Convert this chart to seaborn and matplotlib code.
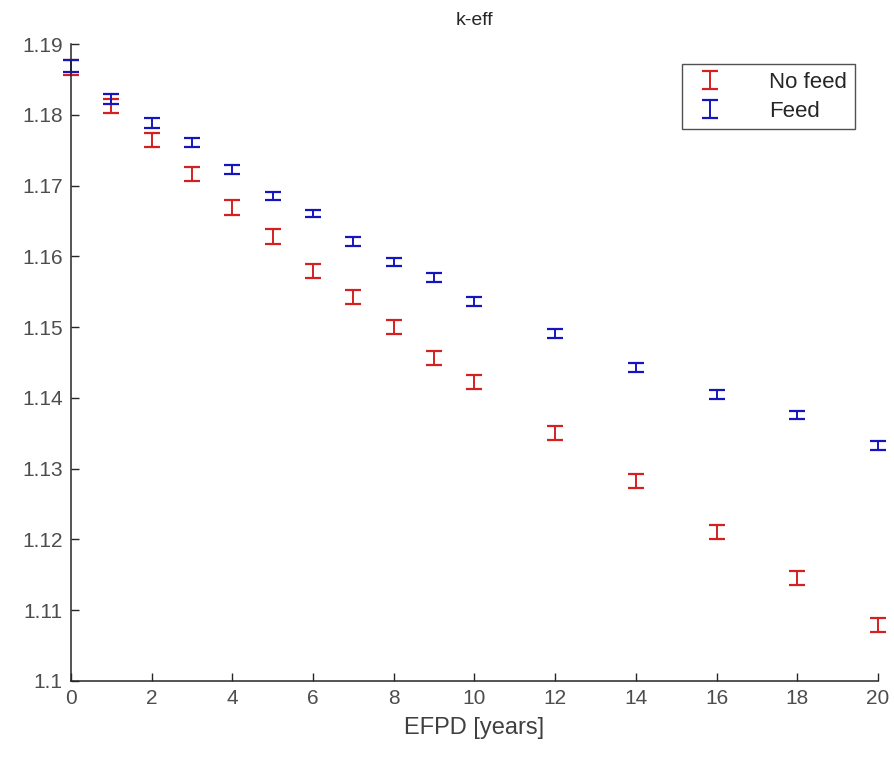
import numpy as np
import pandas as pd
import seaborn as sns
import matplotlib
matplotlib.use("Agg")
import matplotlib.pyplot as plt
from matplotlib.container import ErrorbarContainer
from matplotlib.legend_handler import HandlerErrorbar

# Burnup steps (effective full-power years)
efpd = [0, 1, 2, 3, 4, 5, 6, 7, 8, 9, 10, 12, 14, 16, 18, 20]

# k-eff without fuel feed
keff_nofeed = [1.1867, 1.1813, 1.1764, 1.1716, 1.1669, 1.1628, 1.1579, 1.1542,
               1.1500, 1.1456, 1.1422, 1.1350, 1.1282, 1.1211, 1.1146, 1.1079]
err_nofeed = [0.0011, 0.0010, 0.0010, 0.0010, 0.0010, 0.0010, 0.0010, 0.0010,
              0.0010, 0.0010, 0.0010, 0.0010, 0.0010, 0.0010, 0.0010, 0.0010]

# k-eff with continuous fuel feed
keff_feed = [1.1869, 1.1822, 1.1788, 1.1761, 1.1723, 1.1685, 1.1660, 1.1621,
             1.1592, 1.1570, 1.1536, 1.1491, 1.1443, 1.1405, 1.1376, 1.1333]
err_feed = [0.0008, 0.0007, 0.0007, 0.0006, 0.0006, 0.0006, 0.0005, 0.0006,
            0.0006, 0.0006, 0.0006, 0.0006, 0.0006, 0.0006, 0.0006, 0.0006]

series_names = ["No feed", "Feed"]

df = pd.DataFrame({
    "EFPD": efpd * 2,
    "keff": keff_nofeed + keff_feed,
    "err": err_nofeed + err_feed,
    "case": [series_names[0]] * len(efpd) + [series_names[1]] * len(efpd),
})

sns.set_theme(style="ticks")
plt.rcParams["font.family"] = ["Liberation Sans", "DejaVu Sans"]

fig = plt.figure(figsize=(8.95, 7.63), dpi=100)
ax = fig.add_axes([0.0793, 0.1075, 0.9017, 0.8348])

colors = {"No feed": "#d42020", "Feed": "#1515bd"}
for name in series_names:
    sub = df[df["case"] == name]
    cont = ax.errorbar(sub["EFPD"], sub["keff"], yerr=sub["err"], fmt="none",
                       ecolor=colors[name], elinewidth=1.4, capsize=5.8,
                       capthick=1.6, label=name)
    for child in cont.get_children():
        child.set_clip_on(False)

ax.set_xlim(0, 20)
ax.set_ylim(1.10, 1.19)
ax.set_xticks(np.arange(0, 21, 2))
ax.set_yticks(np.round(np.arange(1.10, 1.1901, 0.01), 2))
ax.set_yticklabels(["1.1"] + [f"{v:.2f}" for v in np.arange(1.11, 1.1901, 0.01)])

sns.despine(ax=ax)
for side in ["left", "bottom"]:
    ax.spines[side].set_color("#262626")
    ax.spines[side].set_linewidth(1.1)
ax.tick_params(direction="in", length=6, width=1.0, colors="#262626",
               labelsize=15, pad=6, labelcolor="#4d4d4d")

ax.set_xlabel("EFPD [years]", fontsize=17, color="#404040", labelpad=6)
ax.set_title("k-eff", fontsize=14, color="#262626", pad=14)

leg = ax.legend(loc="upper right", bbox_to_anchor=(0.9715, 0.9686), fontsize=16,
                frameon=True, fancybox=False, edgecolor="#262626",
                handlelength=1.9, borderpad=0.35, labelspacing=0.35,
                handletextpad=1.7, borderaxespad=0.0,
                handler_map={ErrorbarContainer: HandlerErrorbar(yerr_size=0.4)})
leg.get_frame().set_linewidth(1.0)
for t in leg.get_texts():
    t.set_color("#262626")

fig.savefig("out.png", dpi=100, facecolor="white")
